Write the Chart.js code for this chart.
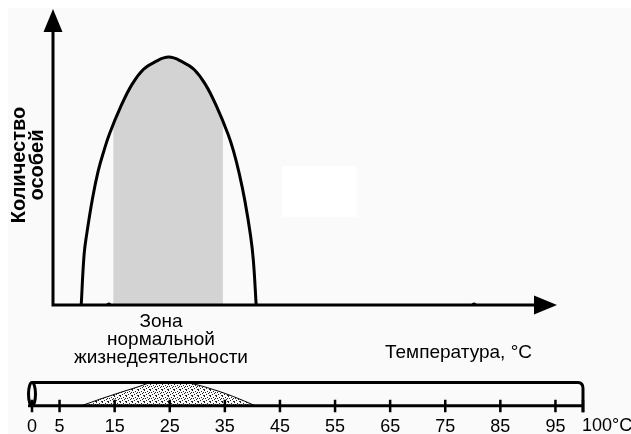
<!DOCTYPE html>
<html>
<head>
<meta charset="utf-8">
<script src="https://cdn.jsdelivr.net/npm/chart.js@4.4.1/dist/chart.umd.min.js"></script>
<style>
    body { margin: 0; background: #fff; }
    #wrap { position: relative; width: 631px; height: 434px; overflow: hidden; }
    #panel { position: absolute; left: 8px; top: 8px; right: 0; bottom: 0; background: #fafafa; }
    #patch { position: absolute; left: 282px; top: 166px; width: 75px; height: 51px; background: #fff; }
    #mainChart { position: absolute; left: 0; top: 0; }
    #scaleChart { position: absolute; left: 0; top: 360px; }
</style>
</head>
<body>
<div id="wrap">
    <div id="panel"></div>
    <div id="patch"></div>
    <canvas id="mainChart" width="631" height="434"></canvas>
    <canvas id="scaleChart" width="631" height="74"></canvas>
</div>
<script>
// ==================== DATA ====================
// main curve: temperature (°C) -> number of individuals (peak = 100)
const curveTemp  = [9, 9.5, 10, 11, 12, 13, 14, 16, 18, 20, 22, 24.5, 27, 29, 31, 33, 35, 36, 37, 38, 39, 39.5, 40];
const curveCount = [0, 20, 29, 43, 54, 62, 69, 80, 89, 95, 98, 100, 98, 95, 89, 80, 69, 62, 53, 42, 28, 18, 0];
const zoneStart = 14.7;
const zoneEnd = 34.1;
const axisDots = [13.9, 78.6];

// bottom thermometer scale
const scaleTicks = [0, 5, 15, 25, 35, 45, 55, 65, 75, 85, 95, 100];
const domeTemp  = [9, 12.3, 16, 19.6, 21.5, 25, 28.1, 31.8, 36.5, 40.5];
const domeLevel = [0, 0.28, 0.57, 0.84, 0.98, 1, 0.98, 0.78, 0.40, 0];

const yTitle = ['Количество', 'особей'];
const zoneLabel = ['Зона', 'нормальной', 'жизнедеятельности'];
const xTitle = 'Температура, °C';
const lastTickLabel = '100°C';

Chart.defaults.font.family = '"Liberation Sans", Arial, sans-serif';
Chart.defaults.color = '#000';

// ==================== HELPERS ====================
function arrowHead(ctx, tipX, tipY, dir) {
    // dir: 'up' or 'right'
    ctx.beginPath();
    if (dir === 'up') {
        ctx.moveTo(tipX, tipY);
        ctx.lineTo(tipX + 9.5, tipY + 23);
        ctx.lineTo(tipX - 9.5, tipY + 23);
    } else {
        ctx.moveTo(tipX, tipY);
        ctx.lineTo(tipX - 23, tipY - 9.5);
        ctx.lineTo(tipX - 23, tipY + 9.5);
    }
    ctx.closePath();
    ctx.fill();
}

function stipple() {
    let c = document.createElement('canvas');
    c.width = 6; c.height = 6;
    let p = c.getContext('2d');
    p.fillStyle = '#222';
    [[0, 0], [3, 1], [1, 2], [5, 2], [4, 3], [2, 4], [0, 5], [5, 5]].forEach(d => p.fillRect(d[0], d[1], 1, 1));
    return c.getContext('2d').createPattern(c, 'repeat');
}

// ==================== MAIN CHART ====================
const zoneClip = {
    id: 'zoneClip',
    beforeDatasetsDraw(chart) {
        let { ctx, chartArea: a, scales: { x } } = chart;
        let x1 = x.getPixelForValue(zoneStart);
        let x2 = x.getPixelForValue(zoneEnd);
        ctx.save();
        ctx.beginPath();
        ctx.rect(x1, a.top, x2 - x1, a.bottom - a.top);
        ctx.clip();
    },
    afterDatasetDraw(chart, args) {
        if (args.index === 2) chart.ctx.restore();
    }
};

const mainDecor = {
    id: 'mainDecor',
    afterDatasetsDraw(chart) {
        let { ctx, chartArea: a } = chart;
        ctx.save();
        ctx.strokeStyle = '#000';
        ctx.fillStyle = '#000';
        ctx.lineWidth = 3;
        ctx.beginPath();
        ctx.moveTo(a.left, a.bottom + 1.5);
        ctx.lineTo(a.left, a.top + 20);
        ctx.moveTo(a.left - 1.5, a.bottom);
        ctx.lineTo(a.right - 20, a.bottom);
        ctx.stroke();
        arrowHead(ctx, a.left, a.top, 'up');
        arrowHead(ctx, a.right, a.bottom, 'right');
        ctx.restore();
    },
    afterDraw(chart) {
        let ctx = chart.ctx;
        ctx.save();
        ctx.fillStyle = '#000';
        ctx.textAlign = 'center';
        ctx.textBaseline = 'alphabetic';
        ctx.translate(25, 165);
        ctx.rotate(-Math.PI / 2);
        ctx.font = 'bold 20px "Liberation Sans"';
        ctx.fillText(yTitle[0], 0, 0);
        ctx.fillText(yTitle[1], 0, 18);
        ctx.restore();

        ctx.save();
        ctx.fillStyle = '#000';
        ctx.font = '19px "Liberation Sans"';
        ctx.textAlign = 'center';
        zoneLabel.forEach((t, i) => ctx.fillText(t, 161, 327 + i * 18));
        ctx.textAlign = 'left';
        ctx.fillText(xTitle, 385, 358);
        ctx.restore();
    }
};

const curvePoints = curveTemp.map((t, i) => ({ x: t, y: curveCount[i] }));

new Chart(document.getElementById('mainChart'), {
    type: 'line',
    data: {
        datasets: [{
            data: curvePoints,
            borderColor: '#000',
            borderWidth: 3,
            fill: false,
            pointRadius: 0,
            tension: 0.4
        }, {
            data: axisDots.map(v => ({ x: v, y: 0 })),
            showLine: false,
            pointRadius: 2.5,
            pointBackgroundColor: '#000',
            pointBorderWidth: 0
        }, {
            data: curvePoints,
            borderColor: 'rgba(0,0,0,0)',
            borderWidth: 0,
            backgroundColor: '#d3d3d3',
            fill: 'origin',
            pointRadius: 0,
            tension: 0.4
        }]
    },
    options: {
        responsive: false,
        animation: false,
        events: [],
        layout: { padding: { left: 53, right: 74, top: 9, bottom: 129 } },
        plugins: { legend: { display: false }, tooltip: { enabled: false } },
        scales: {
            x: { type: 'linear', min: 4, max: 93.3, display: false },
            y: { min: 0, max: 119.4, display: false }
        }
    },
    plugins: [zoneClip, mainDecor]
});

// ==================== THERMOMETER SCALE ====================
const tubeDecor = {
    id: 'tubeDecor',
    afterDatasetsDraw(chart) {
        let { ctx, scales: { x, y } } = chart;
        let top = y.getPixelForValue(1);
        let bot = y.getPixelForValue(0);
        let xl = x.getPixelForValue(0);
        let xr = x.getPixelForValue(100);
        ctx.save();
        ctx.strokeStyle = '#000';
        ctx.fillStyle = '#000';
        ctx.lineWidth = 3;
        // tube outline
        ctx.beginPath();
        ctx.moveTo(xl, top);
        ctx.lineTo(xr - 5, top);
        ctx.quadraticCurveTo(xr, top, xr, top + 6);
        ctx.lineTo(xr, bot + 6.5);
        ctx.stroke();
        ctx.beginPath();
        ctx.ellipse(xl, (top + bot) / 2, 3.5, (bot - top) / 2, 0, 0, 2 * Math.PI);
        ctx.stroke();
        // axis line
        ctx.beginPath();
        ctx.moveTo(xl - 4, bot);
        ctx.lineTo(xr, bot);
        ctx.stroke();
        // tick marks
        ctx.lineWidth = 2.5;
        ctx.beginPath();
        scaleTicks.forEach(v => {
            let px = x.getPixelForValue(v);
            ctx.moveTo(px, bot - 6);
            ctx.lineTo(px, bot + 6.5);
        });
        ctx.stroke();
        // last label sits to the right of its tick, same line as the others
        ctx.font = '18px "Liberation Sans"';
        ctx.textAlign = 'left';
        ctx.textBaseline = 'middle';
        ctx.fillText(lastTickLabel, xr - 1, x.top + 3 + 17.5);
        ctx.restore();
    }
};

new Chart(document.getElementById('scaleChart'), {
    type: 'line',
    data: {
        datasets: [{
            data: domeTemp.map((t, i) => ({ x: t, y: domeLevel[i] })),
            borderColor: '#000',
            borderWidth: 1,
            backgroundColor: stipple(),
            fill: 'origin',
            pointRadius: 0,
            cubicInterpolationMode: 'monotone'
        }]
    },
    options: {
        responsive: false,
        animation: false,
        events: [],
        layout: { padding: { left: 32, right: 48, top: 22.5, bottom: 0 } },
        plugins: { legend: { display: false }, tooltip: { enabled: false } },
        scales: {
            x: {
                type: 'linear', min: 0, max: 100,
                afterBuildTicks: s => { s.ticks = scaleTicks.map(v => ({ value: v })); },
                afterFit: s => { s.height = 28.3; },
                ticks: {
                    color: '#000',
                    font: { size: 18 },
                    padding: 3,
                    autoSkip: false,
                    maxRotation: 0,
                    callback: v => (v === 100 ? '' : v)
                },
                grid: { display: false },
                border: { display: false }
            },
            y: { min: 0, max: 1, display: false }
        }
    },
    plugins: [tubeDecor]
});
</script>
</body>
</html>
